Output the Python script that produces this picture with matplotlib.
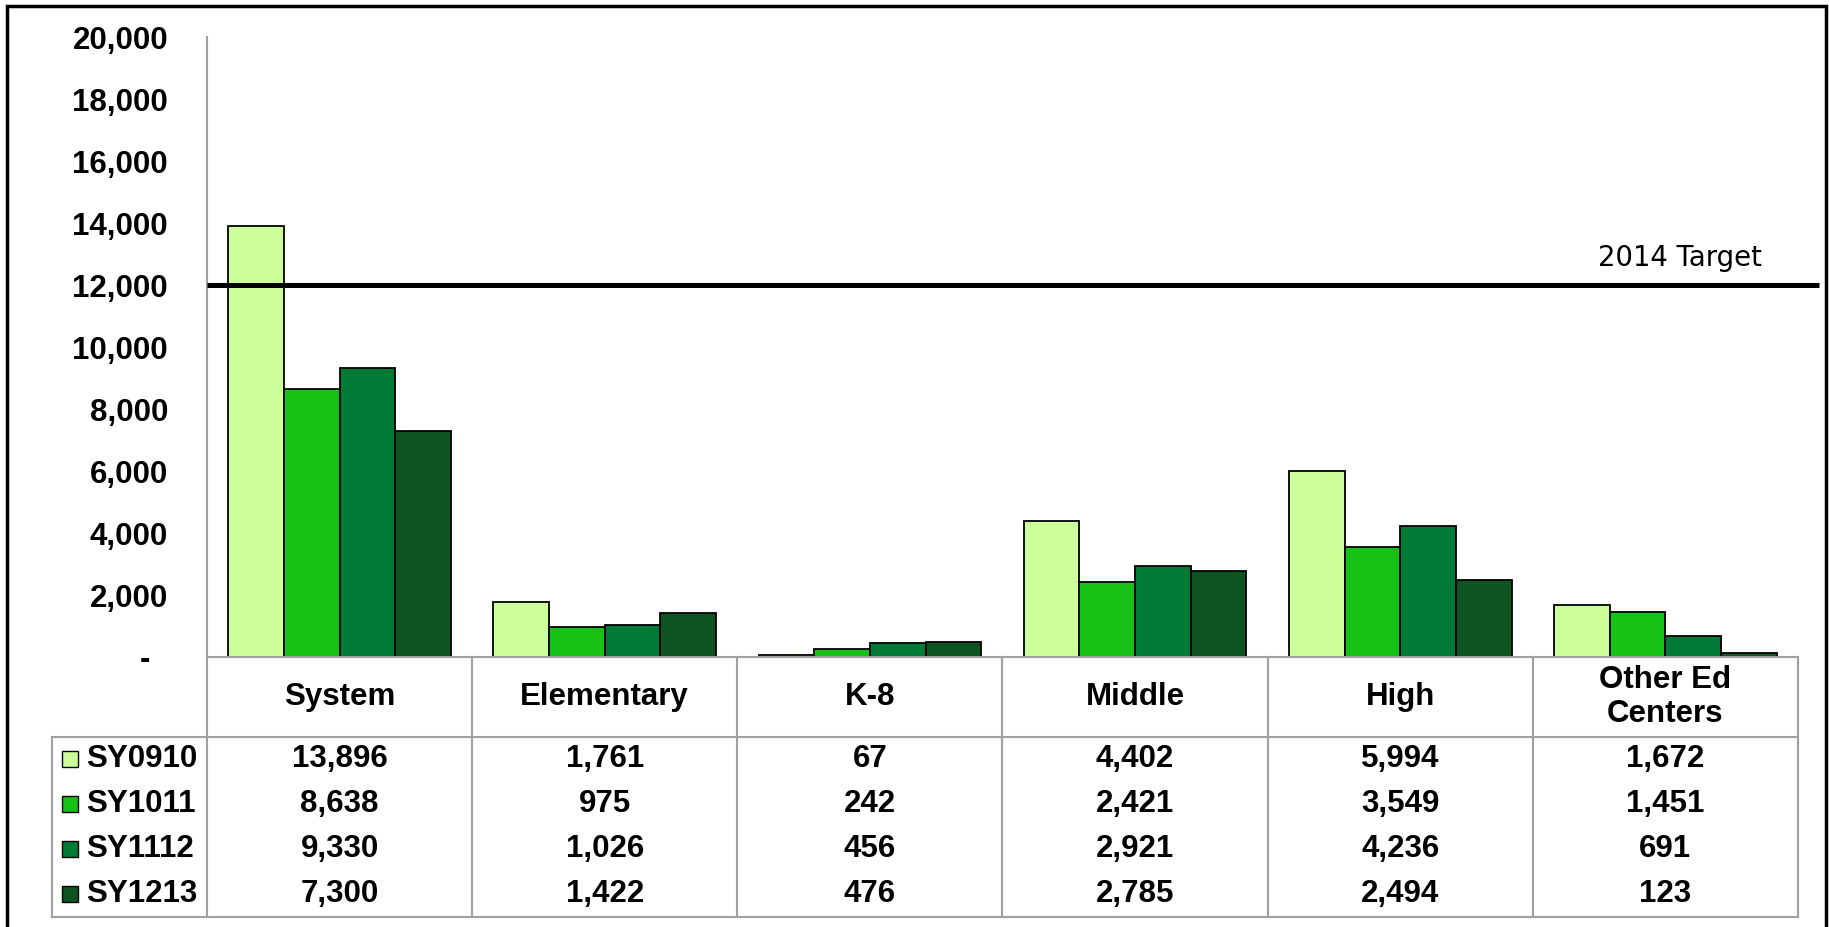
import matplotlib

matplotlib.use("Agg")
import matplotlib.pyplot as plt
from matplotlib.patches import Rectangle
from matplotlib.ticker import FuncFormatter

# Data
categories = ["System", "Elementary", "K-8", "Middle", "High", "Other Ed\nCenters"]
series_names = ["SY0910", "SY1011", "SY1112", "SY1213"]
sy0910 = [13896, 1761, 67, 4402, 5994, 1672]
sy1011 = [8638, 975, 242, 2421, 3549, 1451]
sy1112 = [9330, 1026, 456, 2921, 4236, 691]
sy1213 = [7300, 1422, 476, 2785, 2494, 123]
series_values = [sy0910, sy1011, sy1112, sy1213]
target_value = 12000
target_label = "2014 Target"
y_ticks = list(range(0, 20001, 2000))

COLORS = ["#CCFF99", "#17C217", "#007A37", "#0D5421"]
GRID_GRAY = "#A0A0A0"
FONT = "Liberation Sans"
FS = 22.5

W, H = 1829, 927
fig = plt.figure(figsize=(W / 100, H / 100), dpi=100)
fig.patch.set_facecolor("white")

# plot area in pixels: x 207..1798, y 37..657 (from top)
ax = fig.add_axes([207 / W, (H - 657) / H, (1798 - 207) / W, 620 / H])

n = len(categories)
bar_w = 0.21
offsets = [-1.5, -0.5, 0.5, 1.5]
xs = list(range(n))
for vals, color, off in zip(series_values, COLORS, offsets):
    ax.bar([x + off * bar_w for x in xs], vals, width=bar_w, color=color,
           edgecolor="black", linewidth=1.3, zorder=2)

ax.set_xlim(-0.5, n - 0.5)
ax.set_ylim(0, 20000)
ax.set_yticks(y_ticks)
ax.yaxis.set_major_formatter(FuncFormatter(lambda v, p: "-  " if v == 0 else f"{int(v):,}"))
ax.tick_params(axis="y", length=0, pad=28, labelsize=FS)
for lbl in ax.get_yticklabels():
    lbl.set_fontfamily(FONT)
    lbl.set_fontweight("bold")
ax.set_xticks([])

for side in ["top", "right"]:
    ax.spines[side].set_visible(False)
for side in ["left", "bottom"]:
    ax.spines[side].set_color(GRID_GRAY)
    ax.spines[side].set_linewidth(1.5)
    ax.spines[side].set_zorder(3)

# Target line extends slightly past the plot area
ax.hlines(target_value, -0.5, n - 0.5 + 0.079, colors="black", linewidth=3.6,
          clip_on=False, zorder=4)
ax.text(5.364, 12880, target_label, ha="right", va="center", fontsize=19.8,
        family="DejaVu Sans", color="black")

# ── Data table under the axis ────────────────────────────────────────────
tr = ax.get_xaxis_transform()
head_bot = -80 / 620
row_h = 44.9 / 620
tab_bot = head_bot - 4 * row_h
leg_left = -0.5 + (52 - 207) / 265.17
line_kw = dict(color=GRID_GRAY, linewidth=1.5, clip_on=False, transform=tr)

for i in range(n + 1):
    ax.plot([i - 0.5, i - 0.5], [0, tab_bot], **line_kw)
ax.plot([leg_left, n - 0.5], [head_bot, head_bot], **line_kw)
ax.plot([leg_left, n - 0.5], [tab_bot, tab_bot], **line_kw)
ax.plot([leg_left, leg_left], [head_bot, tab_bot], **line_kw)

txt_kw = dict(fontfamily=FONT, fontweight="bold", fontsize=FS, transform=tr,
              clip_on=False)
for i, cat in enumerate(categories):
    ax.text(i, -40 / 620, cat, ha="center", va="center", linespacing=1.15, **txt_kw)

for r, (name, vals, color) in enumerate(zip(series_names, series_values, COLORS)):
    yc = head_bot - (r + 0.5) * row_h
    sq_x0 = -0.5 + (62 - 207) / 265.17
    sq_w = 16 / 265.17
    sq_h = 16 / 620
    ax.add_patch(Rectangle((sq_x0, yc - sq_h / 2), sq_w, sq_h, facecolor=color,
                           edgecolor="black", linewidth=1.0, transform=tr, clip_on=False))
    ax.text(-0.5 + (86 - 207) / 265.17, yc, name, ha="left", va="center", **txt_kw)
    for i, v in enumerate(vals):
        ax.text(i, yc, f"{v:,}", ha="center", va="center", **txt_kw)

# Outer chart border
fig.patches.append(Rectangle((7 / W, -0.02), (1826 - 7) / W, 1.02 - 5.5 / H,
                             transform=fig.transFigure, fill=False,
                             edgecolor="black", linewidth=2.5))

fig.savefig("out.png", dpi=100, facecolor="white")
